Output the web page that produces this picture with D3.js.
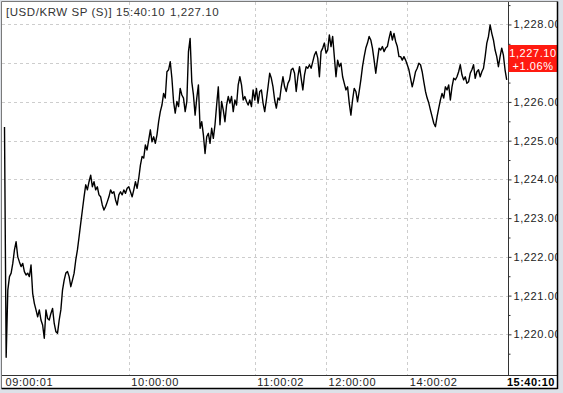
<!DOCTYPE html>
<html>
<head>
<meta charset="utf-8">
<script src="https://cdn.jsdelivr.net/npm/d3@7"></script>
<style>
  html, body { margin: 0; padding: 0; background: #dde1e8; }
  svg { display: block; }
  text { font-family: "Liberation Sans", Arial, sans-serif; }
</style>
</head>
<body>
<svg id="chart" width="563" height="393"></svg>
<script>
// ---- data ----
const titleText = "[USD/KRW SP (S)]";
const titleTime = "15:40:10";
const titlePrice = "1,227.10";
const lastTime = "15:40:10";
const lastPrice = 1227.10;
const changeText = "+1.06%";

const yTicks = [1220, 1221, 1222, 1223, 1224, 1225, 1226, 1227, 1228];
const yMinorTicks = [1219.5, 1220.5, 1221.5, 1222.5, 1223.5, 1224.5, 1225.5, 1226.5, 1227.5, 1228.5];
const timeLabels = ["09:00:01", "10:00:00", "11:00:02", "12:00:00", "14:00:02"];
const timeIndex = [0, 75, 151, 194, 243];

const prices0900 = [
  1225.35, 1219.41, 1221.14,
  1221.49, 1221.58, 1221.83, 1222.18, 1222.39, 1222.00, 1221.87, 1221.75, 1221.83, 1221.62,
  1221.53, 1221.58, 1221.49, 1221.79, 1221.06, 1220.80, 1220.63, 1220.45, 1220.63, 1220.37,
  1220.24, 1219.90, 1220.63, 1220.41, 1220.37, 1220.54, 1220.67, 1220.28, 1220.07, 1220.03,
  1220.37, 1220.63, 1221.14, 1221.40, 1221.58, 1221.62, 1221.49, 1221.23, 1221.40, 1221.58,
  1221.92, 1222.18, 1222.52, 1222.87, 1223.21, 1223.55, 1223.86, 1223.73, 1223.94, 1224.11,
  1223.81, 1223.94, 1223.73, 1223.81, 1223.60, 1223.55, 1223.34, 1223.21, 1223.30, 1223.42,
  1223.55, 1223.73, 1223.64, 1223.68, 1223.47, 1223.34, 1223.60, 1223.68, 1223.60, 1223.73,
  1223.64, 1223.77
];
const prices1000 = [
  1223.81, 1223.68, 1223.55, 1223.73, 1223.94, 1223.77, 1224.03, 1224.37, 1224.59, 1224.55,
  1224.89, 1224.76, 1225.02, 1225.28, 1224.97, 1225.10, 1224.93, 1225.15, 1225.49, 1225.75,
  1225.92, 1226.22, 1226.10, 1226.78, 1226.83, 1227.04, 1226.61, 1226.01, 1225.71, 1226.01,
  1225.88, 1226.35, 1226.18, 1226.10, 1225.75, 1226.01, 1227.30, 1227.64, 1226.52, 1226.18,
  1225.66, 1226.10, 1226.44, 1225.32, 1225.49, 1225.15, 1224.67, 1225.10, 1225.19, 1224.93,
  1225.32, 1225.06, 1225.41, 1225.92, 1226.39, 1225.41, 1226.01, 1225.79, 1225.49, 1225.92,
  1226.14, 1225.97, 1226.14, 1225.75, 1226.05, 1225.92, 1226.44, 1226.65, 1226.44, 1226.05,
  1226.14, 1226.01, 1225.92, 1226.05, 1225.88, 1226.31, 1226.05, 1226.35, 1225.97, 1226.27
];
const prices1100 = [
  1226.31, 1225.97, 1225.75, 1226.05, 1226.39, 1226.74, 1226.61, 1226.39, 1226.05, 1225.84,
  1226.10, 1226.05, 1226.39, 1226.65, 1226.39, 1226.27, 1226.48, 1226.57, 1226.83, 1226.87,
  1226.74, 1226.27, 1226.65, 1226.91, 1226.61, 1226.31, 1226.70, 1226.91, 1226.87, 1226.96,
  1226.87, 1227.04, 1227.21, 1227.30, 1227.13, 1226.65, 1227.30, 1227.39, 1227.52, 1227.26,
  1227.34, 1227.73, 1227.43, 1227.69, 1227.17, 1226.65, 1227.08, 1226.91, 1227.00, 1226.65,
  1226.48, 1226.31, 1226.39, 1225.97, 1225.66, 1226.05, 1226.35, 1226.27, 1226.01, 1226.27,
  1226.57, 1226.91, 1227.17, 1227.39, 1227.52, 1227.69, 1227.60, 1227.39, 1227.08, 1226.74,
  1227.08, 1227.39, 1227.34, 1227.43, 1227.30, 1227.39, 1227.43, 1227.64, 1227.82, 1227.60,
  1227.77, 1227.56, 1227.43, 1227.17, 1227.17
];
const prices1400 = [
  1227.08, 1227.17, 1227.08, 1226.96, 1226.83, 1226.61, 1226.39, 1226.57, 1226.78, 1226.87,
  1227.00, 1226.96, 1226.78, 1226.52, 1226.27, 1226.10, 1225.97, 1225.79, 1225.62, 1225.45,
  1225.36, 1225.62, 1225.84, 1226.05, 1226.22, 1226.10, 1226.39, 1226.31, 1226.44, 1226.05,
  1226.39, 1226.61, 1226.57, 1226.65, 1226.78, 1226.96, 1226.70, 1226.57, 1226.65, 1226.48,
  1226.52, 1226.74, 1226.83, 1226.96, 1226.61, 1226.78, 1226.83, 1226.65, 1226.78, 1226.87,
  1227.17, 1227.52, 1227.69, 1227.99, 1227.77, 1227.60, 1227.34, 1227.17, 1226.91, 1227.17,
  1227.39, 1227.21, 1226.83, 1226.57
];
const prices = [].concat(prices0900, prices1000, prices1100, prices1400);

// ---- layout ----
const plot = { left: 2, right: 508.5, top: 2, bottom: 375.5 };
const frame = { left: 1.5, top: 1.5, right: 557.5, bottom: 388.5 };

const svg = d3.select("#chart");

const x = d3.scaleLinear().domain([0, prices.length - 1]).range([4.5, 506.7]);
const y = d3.scaleLinear().domain([1218.95, 1228.58]).range([375, 2]);

const defs = svg.append("defs");
defs.append("clipPath").attr("id", "plotClip").append("rect")
  .attr("x", plot.left).attr("y", plot.top)
  .attr("width", plot.right - plot.left).attr("height", plot.bottom - plot.top);
defs.append("clipPath").attr("id", "frameClip").append("rect")
  .attr("x", 0).attr("y", 0).attr("width", frame.right - 0.5).attr("height", frame.bottom - 0.5);

// white panel
svg.append("rect").attr("x", frame.left).attr("y", frame.top)
  .attr("width", frame.right - frame.left).attr("height", frame.bottom - frame.top)
  .attr("fill", "#ffffff");

// grid
const grid = svg.append("g").attr("clip-path", "url(#plotClip)");
grid.selectAll("line.h").data(yTicks).join("line").attr("class", "h")
  .attr("x1", plot.left).attr("x2", plot.right)
  .attr("y1", d => Math.round(y(d)) + 0.5).attr("y2", d => Math.round(y(d)) + 0.5)
  .attr("stroke", "#cdcdcd").attr("stroke-dasharray", "3,3");
grid.selectAll("line.v").data(timeIndex.slice(1)).join("line").attr("class", "v")
  .attr("x1", d => Math.round(x(d)) + 0.5).attr("x2", d => Math.round(x(d)) + 0.5)
  .attr("y1", plot.top).attr("y2", plot.bottom)
  .attr("stroke", "#cdcdcd").attr("stroke-dasharray", "3,3");

// price line
const line = d3.line().x((d, i) => x(i)).y(d => y(d));
svg.append("g").attr("clip-path", "url(#plotClip)")
  .append("path").datum(prices)
  .attr("d", line).attr("fill", "none")
  .attr("stroke", "#000").attr("stroke-width", 1.4).attr("stroke-linejoin", "round");

// axis lines
svg.append("line").attr("x1", plot.right).attr("x2", plot.right)
  .attr("y1", frame.top).attr("y2", plot.bottom).attr("stroke", "#333");
svg.append("line").attr("x1", frame.left).attr("x2", frame.right)
  .attr("y1", plot.bottom).attr("y2", plot.bottom).attr("stroke", "#333");

// right axis (the label under the price box is covered in the reference)
const py = y(lastPrice);
const axisG = svg.append("g").attr("clip-path", "url(#frameClip)");
const yAxis = d3.axisRight(y).tickValues(yTicks).tickSize(3).tickPadding(2)
  .tickFormat(d => Math.abs(y(d) - py) < 16 ? "" : d3.format(",.2f")(d));
const ya = axisG.append("g").attr("transform", `translate(${plot.right},0)`).call(yAxis);
ya.select(".domain").remove();
ya.selectAll(".tick line").attr("stroke", "#333");
ya.selectAll(".tick text").attr("fill", "#222").attr("font-size", 11)
  .attr("letter-spacing", "0.6px").attr("font-family", "Liberation Sans, Arial, sans-serif");

const yMinor = d3.axisRight(y).tickValues(yMinorTicks).tickSize(2).tickFormat("");
const ym = axisG.append("g").attr("transform", `translate(${plot.right},0)`).call(yMinor);
ym.select(".domain").remove();
ym.selectAll(".tick line").attr("stroke", "#333");

// bottom axis labels
const xAxis = d3.axisBottom(x).tickValues(timeIndex).tickSize(0)
  .tickFormat((d, i) => timeLabels[i]);
const xa = svg.append("g").call(xAxis);
xa.select(".domain").remove();
xa.selectAll(".tick text")
  .attr("y", 386).attr("dy", null).attr("x", (d, i) => i === 0 ? 0.5 : 2)
  .attr("text-anchor", "start").attr("fill", "#222").attr("font-size", 11)
  .attr("letter-spacing", "0.6px").attr("font-family", "Liberation Sans, Arial, sans-serif");

svg.append("text").attr("x", 555).attr("y", 386).attr("text-anchor", "end")
  .attr("font-size", 11).attr("font-weight", "bold").attr("letter-spacing", "0.5px")
  .attr("fill", "#000").text(lastTime);

// current price box
const boxG = svg.append("g").attr("clip-path", "url(#frameClip)");
boxG.append("rect").attr("x", plot.right).attr("y", Math.round(py) - 14)
  .attr("width", 52).attr("height", 27).attr("fill", "#ff1a10");
boxG.append("text").attr("x", 533).attr("y", Math.round(py) - 2)
  .attr("text-anchor", "middle").attr("fill", "#fff").attr("font-size", 11)
  .attr("letter-spacing", "0.6px").text(d3.format(",.2f")(lastPrice));
boxG.append("text").attr("x", 533).attr("y", Math.round(py) + 11)
  .attr("text-anchor", "middle").attr("fill", "#fff").attr("font-size", 11)
  .attr("letter-spacing", "0.6px").text(changeText);

// title
const tg = svg.append("g").attr("fill", "#333").attr("font-size", 11.5).attr("letter-spacing", "0.55px");
tg.append("text").attr("x", 6).attr("y", 16).text(titleText);
tg.append("text").attr("x", 116).attr("y", 16).text(titleTime);
tg.append("text").attr("x", 170).attr("y", 16).text(titlePrice);

// frame
svg.append("line").attr("x1", frame.left).attr("x2", frame.right).attr("y1", frame.top).attr("y2", frame.top).attr("stroke", "#7a7a7a");
svg.append("line").attr("x1", frame.left).attr("x2", frame.left).attr("y1", frame.top).attr("y2", frame.bottom).attr("stroke", "#7a7a7a");
svg.append("line").attr("x1", frame.right).attr("x2", frame.right).attr("y1", frame.top).attr("y2", frame.bottom + 0.5).attr("stroke", "#000").attr("stroke-width", 1.5);
svg.append("line").attr("x1", frame.left).attr("x2", frame.right).attr("y1", frame.bottom).attr("y2", frame.bottom).attr("stroke", "#000").attr("stroke-width", 1.5);
</script>
</body>
</html>
